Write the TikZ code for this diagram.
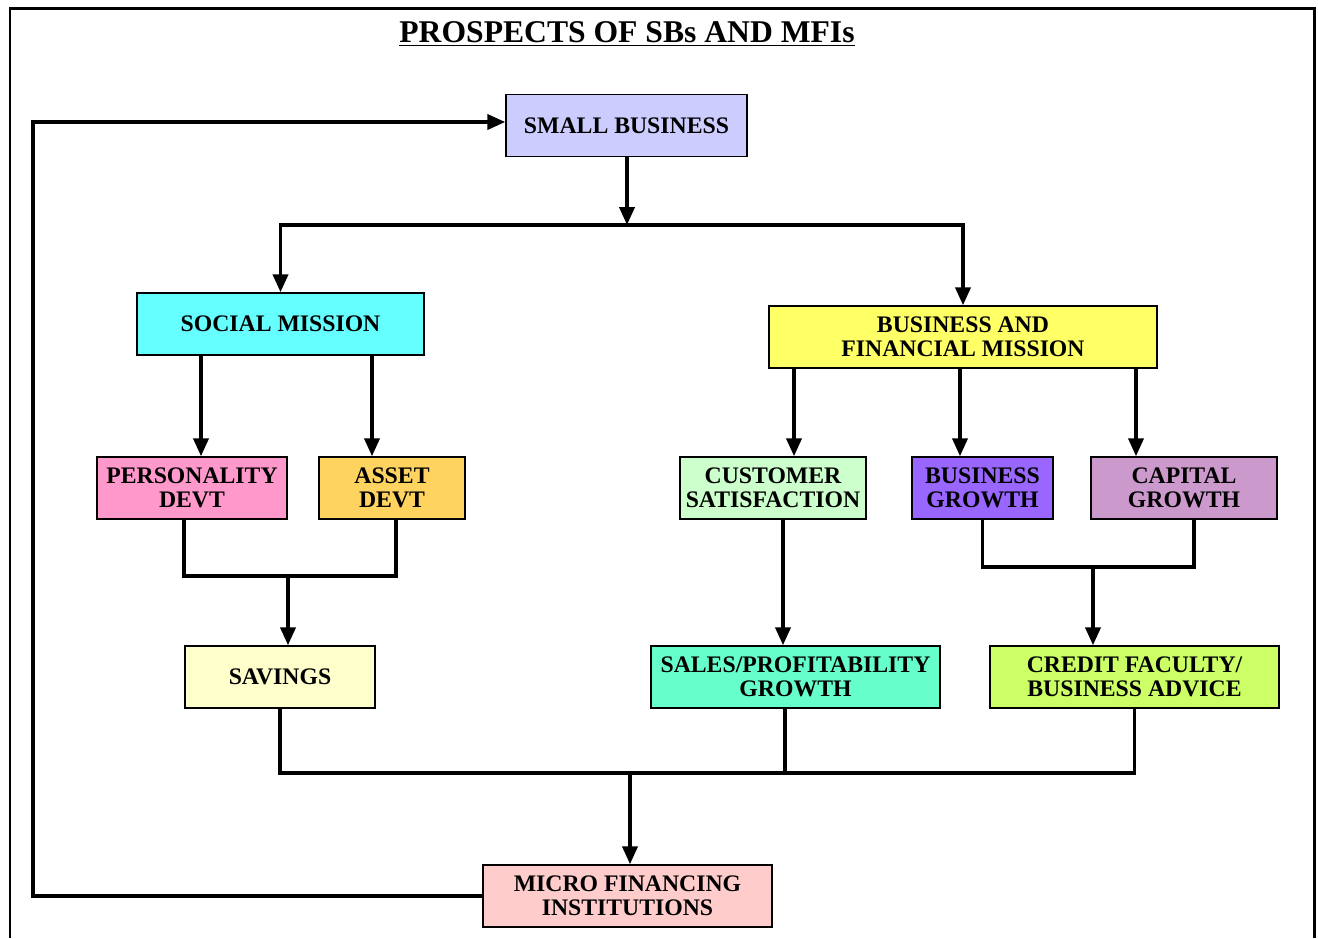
\documentclass[tikz,border=0pt]{standalone}
\usepackage{fontspec}
\setmainfont{Liberation Serif}
\usepackage{tikz}
\usetikzlibrary{arrows.meta,positioning,calc}
\definecolor{SBBlue}{HTML}{CCCCFF}
\definecolor{SocCyan}{HTML}{66FFFF}
\definecolor{BfmYellow}{HTML}{FFFF66}
\definecolor{PerPink}{HTML}{FF99CC}
\definecolor{AstOrange}{HTML}{FFD35F}
\definecolor{CusGreen}{HTML}{CCFFCC}
\definecolor{BgPurple}{HTML}{9966FF}
\definecolor{CapMauve}{HTML}{CC99CC}
\definecolor{SavCream}{HTML}{FFFFCC}
\definecolor{SalTeal}{HTML}{66FFCC}
\definecolor{CreLime}{HTML}{CCFF66}
\definecolor{MfiRose}{HTML}{FFCCCC}
\tikzset{
	box/.style={draw, line width=0.8pt, align=center, inner sep=0pt,
		minimum height=1.24cm, font=\fontsize{13.5}{13.8}\selectfont\bfseries},
	link/.style={line width=2.2pt},
	arr/.style={link, -{Triangle[length=0.36cm,width=0.3cm]}},
}
\begin{document}
\begin{tikzpicture}
	\useasboundingbox (0,0) rectangle (26.36,-18.76);
	% frame
	\draw[line width=1.3pt] (0.2,-18.76) -- (0.2,-0.17) -- (26.29,-0.17) -- (26.29,-18.76);
	\node (title) at (12.54,-0.68) {\fontsize{18}{20}\selectfont\bfseries\underline{PROSPECTS OF SBs AND MFIs}};
	
	\node[box, fill=SBBlue, minimum width=4.82cm] (sb) at (12.53,-2.51) {SMALL BUSINESS};
	\node[box, fill=SocCyan, minimum width=5.74cm] (soc) at (5.61,-6.48) {SOCIAL MISSION};
	\node[box, fill=BfmYellow, minimum width=7.76cm] (bfm) at (19.26,-6.74) {BUSINESS AND\\FINANCIAL MISSION};
	
	\node[box, fill=PerPink, minimum width=3.80cm] (per) at (3.84,-9.76) {PERSONALITY\\DEVT};
	\node[box, fill=AstOrange, minimum width=2.92cm] (ast) at (7.84,-9.76) {ASSET\\DEVT};
	\node[box, fill=CusGreen, minimum width=3.72cm] (cus) at (15.46,-9.76) {CUSTOMER\\SATISFACTION};
	\node[box, fill=BgPurple, minimum width=2.82cm] (bg) at (19.65,-9.76) {BUSINESS\\GROWTH};
	\node[box, fill=CapMauve, minimum width=3.72cm] (cap) at (23.68,-9.76) {CAPITAL\\GROWTH};
	
	\node[box, fill=SavCream, minimum width=3.80cm] (sav) at (5.60,-13.54) {SAVINGS};
	\node[box, fill=SalTeal, minimum width=5.78cm] (sal) at (15.91,-13.54) {SALES/PROFITABILITY\\GROWTH};
	\node[box, fill=CreLime, minimum width=5.78cm] (cre) at (22.69,-13.54) {CREDIT FACULTY/\\BUSINESS ADVICE};
	
	\node[box, fill=MfiRose, minimum width=5.78cm] (mfi) at (12.55,-17.92) {MICRO FINANCING\\INSTITUTIONS};
	
	% junctions
	\coordinate (j1) at (12.54,-4.50);
	\coordinate (j2) at (5.76,-11.52);
	\coordinate (j3) at (21.86,-11.34);
	\coordinate (j4) at (12.60,-15.46);
	\coordinate (xper) at (4.02,0);
	\coordinate (xast) at (7.44,0);
	\coordinate (xcus) at (15.88,0);
	\coordinate (xbg) at (19.20,0);
	\coordinate (xcap) at (22.72,0);
	\coordinate (xloop) at (0.66,0);
	\coordinate (yloop) at (0,-2.44);
	
	% top split
	\draw[arr] (sb.south -| j1) -- (j1);
	\draw[arr] (j1) -| (soc.north);
	\draw[arr] (j1) -| (bfm.north);
	
	% social mission
	\draw[arr] (soc.south -| xper) -- (per.north -| xper);
	\draw[arr] (soc.south -| xast) -- (ast.north -| xast);
	\draw[link] ([xshift=-0.16cm]per.south) |- (j2) -| ([xshift=0.08cm]ast.south);
	\draw[arr] (j2) -- (sav.north -| j2);
	
	% business and financial mission
	\draw[arr] (bfm.south -| xcus) -- (cus.north -| xcus);
	\draw[arr] (bfm.south -| xbg) -- (bg.north -| xbg);
	\draw[arr] (bfm.south -| xcap) -- (cap.north -| xcap);
	\draw[arr] ([xshift=0.2cm]cus.south) -- ([xshift=-0.25cm]sal.north);
	\draw[link] (bg.south) |- (j3) -| ([xshift=0.2cm]cap.south);
	\draw[arr] (j3) -- (cre.north -| j3);
	
	% to MFIs
	\draw[link] (sav.south) |- (j4) -| (cre.south);
	\draw[link] ([xshift=-0.21cm]sal.south) -- ([xshift=-0.21cm]sal.south |- j4);
	\draw[arr] (j4) -- (mfi.north -| j4);
	
	% feedback loop
	\draw[arr] (mfi.west) -| (xloop |- yloop) -- (sb.west |- yloop);
\end{tikzpicture}
\end{document}
